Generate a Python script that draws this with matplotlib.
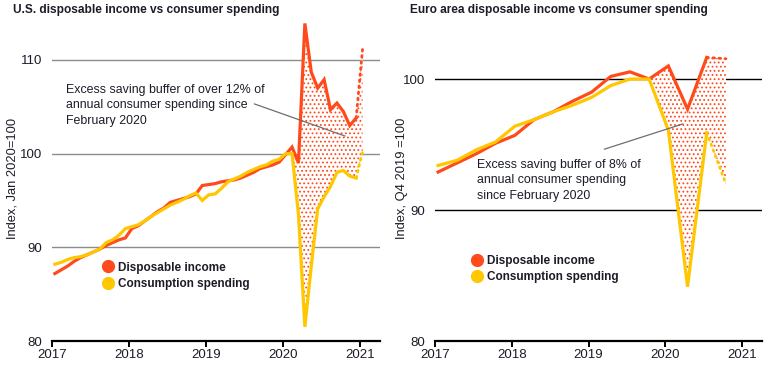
import matplotlib
matplotlib.use('Agg')
import matplotlib.pyplot as plt
from matplotlib.lines import Line2D
import numpy as np

plt.rcParams['font.family'] = ['Liberation Sans', 'DejaVu Sans']
plt.rcParams['hatch.linewidth'] = 0.8

RED = '#ff4a1c'
YEL = '#ffc700'
INK = '#1c1c28'

# ---------------- data ----------------
# U.S. monthly, Jan 2017 .. Dec 2020 (index Jan 2020 = 100)
us_income = [
    87.2, 87.6, 88.0, 88.5, 88.9, 89.2, 89.5, 89.8, 90.2, 90.5, 90.8, 91.0,
    92.0, 92.3, 92.8, 93.3, 93.8, 94.2, 94.8, 95.0, 95.2, 95.4, 95.7, 96.6,
    96.7, 96.8, 97.0, 97.1, 97.2, 97.4, 97.7, 98.0, 98.4, 98.6, 98.8, 99.1,
    99.9, 100.7, 99.0, 113.9, 108.7, 107.0, 107.9, 104.7, 105.4, 104.5, 103.0, 103.8,
]
us_spending = [
    88.2, 88.4, 88.7, 88.9, 89.0, 89.2, 89.5, 89.8, 90.5, 90.8, 91.3, 92.0,
    92.2, 92.4, 92.8, 93.3, 93.7, 94.1, 94.5, 94.8, 95.1, 95.5, 95.8, 95.0,
    95.6, 95.7, 96.3, 97.0, 97.3, 97.6, 98.0, 98.3, 98.6, 98.8, 99.2, 99.4,
    100.0, 100.0, 93.5, 81.5, 88.0, 94.1, 95.4, 96.5, 98.0, 98.2, 97.6, 97.4,
]
us_income_forecast = 111.2     # Jan 2021
us_spending_forecast = 100.2   # Jan 2021

# Euro area quarterly, Q1 2017 .. Q3 2020 (index Q4 2019 = 100)
ea_income = [92.9, 93.6, 94.3, 95.1, 95.7, 96.9, 97.5, 98.3,
             99.0, 100.2, 100.55, 100.0, 101.0, 97.7, 101.65]
ea_spending = [93.4, 93.8, 94.6, 95.2, 96.4, 96.9, 97.5, 98.0,
               98.6, 99.5, 100.0, 100.0, 96.1, 84.15, 95.9]
ea_income_forecast = 101.55    # Q4 2020
ea_spending_forecast = 92.0    # Q4 2020

years = [2017, 2018, 2019, 2020, 2021]
legend_labels = ['Disposable income', 'Consumption spending']

# ---------------- figure ----------------
fig = plt.figure(figsize=(7.72, 3.66), dpi=100)
axL = fig.add_axes([52.3 / 772, 25 / 366, 327.7 / 772, 324.3 / 366])
axR = fig.add_axes([435 / 772, 25 / 366, 327 / 772, 324.3 / 366])


def style(ax, ylim, yticks, gridcolor):
    ax.set_xlim(2017, 2021.26)
    ax.set_ylim(*ylim)
    ax.set_yticks(yticks)
    ax.set_xticks(years)
    ax.set_xticklabels([str(y) for y in years])
    for s in ['top', 'right', 'left']:
        ax.spines[s].set_visible(False)
    ax.spines['bottom'].set_linewidth(1.6)
    ax.spines['bottom'].set_color('black')
    ax.tick_params(axis='y', length=0, pad=7, labelsize=9.5, labelcolor=INK)
    ax.tick_params(axis='x', length=4, width=1.4, pad=2, labelsize=9.5,
                   labelcolor=INK, color='black')
    ax.set_axisbelow(True)
    ax.yaxis.grid(True, color=gridcolor, lw=1.0, zorder=0)
    ax.xaxis.grid(False)


def draw(ax, x, inc, spd, xf, inc_f, spd_f, fill_from):
    fx = list(x[fill_from:]) + [xf]
    fi = list(inc[fill_from:]) + [inc_f]
    fs = list(spd[fill_from:]) + [spd_f]
    ax.fill_between(fx, fi, fs, facecolor='white', edgecolor=RED,
                    hatch='....', linewidth=0, zorder=1.5)
    ax.plot(x, inc, color=RED, lw=2.3, solid_joinstyle='miter', zorder=3)
    ax.plot(x, spd, color=YEL, lw=2.3, solid_joinstyle='miter', zorder=4)
    ax.plot([x[-1], xf], [inc[-1], inc_f], color=RED, lw=2.0,
            linestyle=(0, (0.6, 1.6)), dash_capstyle='round', zorder=3)
    ax.plot([x[-1], xf], [spd[-1], spd_f], color=YEL, lw=2.0,
            linestyle=(0, (0.6, 1.6)), dash_capstyle='round', zorder=4)


def legend(ax, anchor):
    handles = [Line2D([], [], marker='o', ls='none', color=RED, markersize=8.5),
               Line2D([], [], marker='o', ls='none', color=YEL, markersize=8.5)]
    ax.legend(handles, legend_labels, loc='upper left', bbox_to_anchor=anchor,
              frameon=False, prop={'weight': 'bold', 'size': 8.5},
              labelcolor=INK, handlelength=0.8, handletextpad=0.45,
              borderpad=0, borderaxespad=0, labelspacing=0.36)


# U.S.
us_x = 2017 + (np.arange(len(us_income)) + 0.4) / 12
us_xf = 2017 + (len(us_income) + 0.4) / 12
style(axL, (80, 114.62), [80, 90, 100, 110], '#8c8c8c')
draw(axL, us_x, us_income, us_spending, us_xf,
     us_income_forecast, us_spending_forecast, 37)
axL.text(2017.178, 107.45,
         'Excess saving buffer of over 12% of\nannual consumer spending since\nFebruary 2020',
         fontsize=8.9, color=INK, va='top', ha='left', linespacing=1.38, zorder=6)
axL.annotate('', xy=(2020.84, 101.78), xytext=(2019.593, 105.41),
             arrowprops=dict(arrowstyle='-', color='#6e6e6e', lw=0.9), zorder=6)
legend(axL, (0.156, 0.245))

# Euro area
ea_x = 2017 + np.arange(len(ea_income)) / 4 + 0.04
ea_xf = 2017 + len(ea_income) / 4 + 0.04
style(axR, (80, 104.76), [80, 90, 100], 'black')
draw(axR, ea_x, ea_income, ea_spending, ea_xf,
     ea_income_forecast, ea_spending_forecast, 11)
axR.text(2017.547, 93.9,
         'Excess saving buffer of 8% of\nannual consumer spending\nsince February 2020',
         fontsize=8.9, color=INK, va='top', ha='left', linespacing=1.38, zorder=6)
axR.annotate('', xy=(2020.264, 96.64), xytext=(2019.172, 94.58),
             arrowprops=dict(arrowstyle='-', color='#6e6e6e', lw=0.9), zorder=6)
legend(axR, (0.114, 0.265))

# titles & axis labels
fig.text(13 / 772, 1 - 9.5 / 366, 'U.S. disposable income vs consumer spending',
         fontsize=8.55, weight='bold', color=INK, va='center', ha='left')
fig.text(410 / 772, 1 - 9.5 / 366, 'Euro area disposable income vs consumer spending',
         fontsize=8.55, weight='bold', color=INK, va='center', ha='left')
fig.text(12.5 / 772, 1 - 178 / 366, 'Index, Jan 2020=100', rotation=90,
         fontsize=9.3, color=INK, va='center', ha='center')
fig.text(402 / 772, 1 - 178 / 366, 'Index, Q4 2019 =100', rotation=90,
         fontsize=9.3, color=INK, va='center', ha='center')

fig.savefig('out.png', dpi=100, facecolor='white')
